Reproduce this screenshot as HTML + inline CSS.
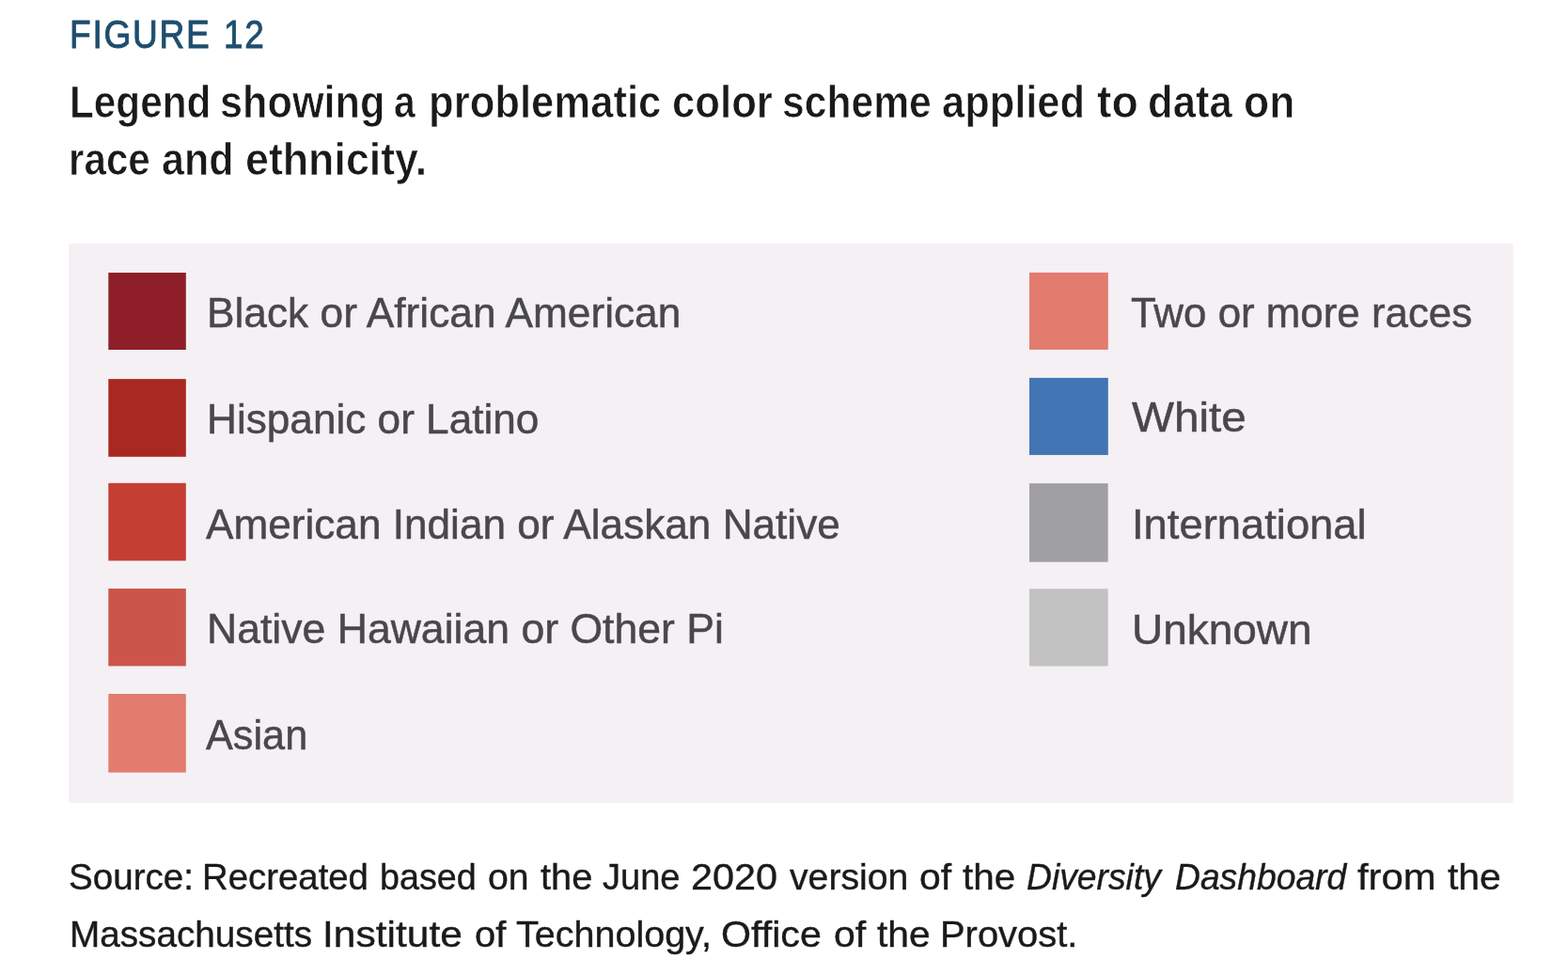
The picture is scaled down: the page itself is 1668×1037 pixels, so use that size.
<!DOCTYPE html>
<html lang="en"><head><meta charset="utf-8"><title>Figure 12</title>
<style>
html,body{margin:0;padding:0;background:#fff;}
body{width:1668px;height:1037px;position:relative;overflow:hidden;font-family:"Liberation Sans",sans-serif;}
.ln{position:absolute;left:0;margin:0;line-height:1;white-space:nowrap;}
.ln span{position:absolute;top:0;white-space:nowrap;transform-origin:0 0;}
.fig{font-size:43.0px;color:#1f4e6e;letter-spacing:2px;-webkit-text-stroke:0.95px #1f4e6e;}
.hd{font-size:47.5px;font-weight:bold;color:#1a1a1a;-webkit-text-stroke:0.7px #fff;}
.lb{font-size:45px;color:#48484a;-webkit-text-stroke:0.5px #48484a;}
.src{font-size:39px;color:#1a1a1a;-webkit-text-stroke:0.4px #1a1a1a;}
.src i{font-style:italic;}
.bg{position:absolute;left:0;top:0;}
</style></head><body>
<svg class="bg" width="1668" height="1037" viewBox="0 0 1668 1037">
<rect x="73.1" y="259.1" width="1536.5" height="594.8" fill="#f4f0f4"/>
<rect x="115.3" y="290" width="82.5" height="82" fill="#8e1f28"/>
<rect x="115.3" y="403.1" width="82.5" height="82.7" fill="#aa2822"/>
<rect x="115.3" y="513.8" width="82.5" height="82.6" fill="#c43e34"/>
<rect x="115.3" y="626" width="82.5" height="82.4" fill="#cb554a"/>
<rect x="115.3" y="738" width="82.5" height="83.6" fill="#e27c6e"/>
<rect x="1095" y="289.9" width="83.8" height="82" fill="#e27c6e"/>
<rect x="1095" y="401.9" width="83.8" height="82" fill="#4175b4"/>
<rect x="1095" y="514.1" width="83.7" height="83.6" fill="#a0a0a2"/>
<rect x="1095" y="626.2" width="83.7" height="82.3" fill="#c2c2c2"/>
</svg>
<div class="ln fig" id="fig" style="top:14.60px"><span style="left:73.71px;transform:scaleX(0.8625)">FIGURE</span> <span style="left:238.32px;transform:scaleX(0.8600)">12</span></div>
<div class="ln hd" id="h1" style="top:85.30px"><span style="left:73.83px;transform:scaleX(0.8902)">Legend</span> <span style="left:234.48px;transform:scaleX(0.9106)">showing</span> <span style="left:419.31px;transform:scaleX(0.8600)">a</span> <span style="left:455.94px;transform:scaleX(0.9186)">problematic</span> <span style="left:714.96px;transform:scaleX(0.9202)">color</span> <span style="left:831.60px;transform:scaleX(0.8977)">scheme</span> <span style="left:1002.09px;transform:scaleX(0.9142)">applied</span> <span style="left:1166.60px;transform:scaleX(0.9767)">to</span> <span style="left:1220.56px;transform:scaleX(0.9187)">data</span> <span style="left:1323.43px;transform:scaleX(0.9352)">on</span></div>
<div class="ln hd" id="h2" style="top:146.30px"><span style="left:73.34px;transform:scaleX(0.8882)">race</span> <span style="left:172.39px;transform:scaleX(0.9062)">and</span> <span style="left:260.82px;transform:scaleX(0.9420)">ethnicity.</span></div>
<div class="ln lb" id="l1" style="top:309.55px"><span style="left:220.35px;transform:scaleX(0.9837)">Black or African American</span></div>
<div class="ln lb" id="l2" style="top:422.55px"><span style="left:220.36px;transform:scaleX(0.9812)">Hispanic or Latino</span></div>
<div class="ln lb" id="l3" style="top:534.75px"><span style="left:218.50px;transform:scaleX(0.9810)">American Indian or Alaskan Native</span></div>
<div class="ln lb" id="l4" style="top:645.65px"><span style="left:220.33px;transform:scaleX(0.9904)">Native Hawaiian or Other Pi</span></div>
<div class="ln lb" id="l5" style="top:758.65px"><span style="left:218.50px;transform:scaleX(0.9618)">Asian</span></div>
<div class="ln lb" id="r1" style="top:309.55px"><span style="left:1203.40px;transform:scaleX(0.9747)">Two or more races</span></div>
<div class="ln lb" id="r2" style="top:421.35px"><span style="left:1203.70px;transform:scaleX(1.0596)">White</span></div>
<div class="ln lb" id="r3" style="top:535.35px"><span style="left:1204.08px;transform:scaleX(1.0079)">International</span></div>
<div class="ln lb" id="r4" style="top:646.75px"><span style="left:1203.94px;transform:scaleX(1.0214)">Unknown</span></div>
<div class="ln src" id="s1" style="top:913.15px"><span style="left:73.12px;transform:scaleX(0.9891)">Source:</span> <span style="left:215.25px;transform:scaleX(0.9834)">Recreated</span> <span style="left:404.27px;transform:scaleX(0.9667)">based</span> <span style="left:519.30px;transform:scaleX(1.0049)">on</span> <span style="left:575.30px;transform:scaleX(1.0208)">the</span> <span style="left:641.20px;transform:scaleX(0.9759)">June</span> <span style="left:734.64px;transform:scaleX(1.0612)">2020</span> <span style="left:839.70px;transform:scaleX(1.0056)">version</span> <span style="left:978.05px;transform:scaleX(1.0469)">of</span> <span style="left:1024.00px;transform:scaleX(1.0358)">the</span> <span style="left:1092.24px;transform:scaleX(0.9556)"><i>Diversity</i></span> <span style="left:1249.55px;transform:scaleX(0.9550)"><i>Dashboard</i></span> <span style="left:1444.10px;transform:scaleX(1.0711)">from</span> <span style="left:1539.50px;transform:scaleX(1.0491)">the</span></div>
<div class="ln src" id="s2" style="top:974.15px"><span style="left:73.72px;transform:scaleX(0.9922)">Massachusetts</span> <span style="left:342.93px;transform:scaleX(1.0902)">Institute</span> <span style="left:504.68px;transform:scaleX(1.0219)">of</span> <span style="left:548.90px;transform:scaleX(1.0129)">Technology,</span> <span style="left:767.34px;transform:scaleX(1.0556)">Office</span> <span style="left:886.55px;transform:scaleX(1.0500)">of</span> <span style="left:932.90px;transform:scaleX(1.0453)">the</span> <span style="left:1000.33px;transform:scaleX(1.0234)">Provost.</span></div>
</body></html>
